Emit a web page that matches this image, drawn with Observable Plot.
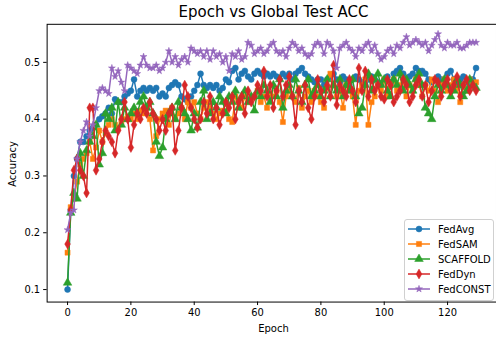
<!DOCTYPE html>
<html><head><meta charset="utf-8">
<script src="https://cdn.jsdelivr.net/npm/d3@7"></script>
<script src="https://cdn.jsdelivr.net/npm/@observablehq/plot@0.6"></script>
<style>
body{margin:0;background:#fff;overflow:hidden;}
#wrap{position:relative;width:496px;height:339px;overflow:hidden;font-family:"DejaVu Sans",sans-serif;color:#000;background:#fff;}
#title{position:absolute;left:47px;width:453px;top:3px;text-align:center;font-size:15px;line-height:18px;}
#xlabel{position:absolute;left:47px;width:453px;top:323px;text-align:center;font-size:10px;line-height:12px;}
#ylabel{position:absolute;left:13px;top:164px;font-size:10px;line-height:12px;transform:translate(-50%,-50%) rotate(-90deg);white-space:nowrap;}
#legend{position:absolute;left:404px;top:219px;width:88px;height:80px;border:1px solid #d0d0d0;border-radius:3px;background:rgba(255,255,255,0.8);}
#chart{position:absolute;left:0;top:0;}
</style></head>
<body>
<div id="wrap">
<div id="chart"></div>
<div id="title">Epoch vs Global Test ACC</div>
<div id="xlabel">Epoch</div>
<div id="ylabel">Accuracy</div>
<div id="legend"></div>
</div>
<script>
const seriesNames = ["FedAvg","FedSAM","SCAFFOLD","FedDyn","FedCONST"];
const colors = ["#1f77b4","#ff7f0e","#2ca02c","#d62728","#9467bd"];
const symbols = ["circle","square","triangle","diamond","star"];
const xTicks = [0,20,40,60,80,100,120];
const yTicks = [0.1,0.2,0.3,0.4,0.5];

const fedAvg = [0.10,0.24,0.30,0.33,0.36,0.36,0.37,0.38,0.385,0.39,0.40,0.405,0.41,0.42,0.41,0.435,0.43,0.43,0.44,0.445,
0.45,0.47,0.44,0.45,0.455,0.45,0.455,0.45,0.455,0.44,0.445,0.44,0.455,0.46,0.465,0.46,0.44,0.435,0.43,0.44,
0.45,0.46,0.48,0.46,0.455,0.46,0.455,0.46,0.45,0.455,0.47,0.465,0.485,0.49,0.47,0.48,0.485,0.475,0.47,0.48,
0.485,0.48,0.475,0.48,0.475,0.48,0.475,0.47,0.48,0.475,0.48,0.47,0.48,0.485,0.49,0.48,0.475,0.47,0.465,0.47,
0.47,0.46,0.47,0.475,0.48,0.47,0.465,0.475,0.47,0.46,0.47,0.475,0.47,0.465,0.46,0.47,0.475,0.47,0.465,0.46,
0.47,0.475,0.465,0.48,0.485,0.49,0.48,0.47,0.475,0.48,0.49,0.485,0.485,0.48,0.47,0.465,0.47,0.475,0.47,0.465,
0.48,0.485,0.47,0.465,0.47,0.475,0.465,0.46,0.47,0.49];
const fedSAM = [0.165,0.245,0.26,0.29,0.32,0.33,0.34,0.36,0.33,0.35,0.38,0.36,0.375,0.39,0.40,0.39,0.385,0.395,0.40,0.405,
0.40,0.41,0.40,0.415,0.41,0.42,0.40,0.345,0.37,0.40,0.41,0.415,0.39,0.42,0.40,0.41,0.42,0.40,0.43,0.42,
0.43,0.41,0.40,0.42,0.43,0.42,0.41,0.40,0.41,0.415,0.43,0.40,0.395,0.44,0.43,0.42,0.44,0.43,0.435,0.44,
0.45,0.43,0.44,0.42,0.445,0.44,0.45,0.43,0.395,0.44,0.45,0.44,0.43,0.455,0.42,0.44,0.45,0.43,0.45,0.44,
0.43,0.42,0.455,0.48,0.46,0.44,0.45,0.42,0.46,0.45,0.44,0.39,0.45,0.46,0.47,0.39,0.43,0.44,0.46,0.45,
0.47,0.44,0.46,0.47,0.45,0.46,0.47,0.44,0.46,0.45,0.47,0.46,0.44,0.46,0.45,0.47,0.45,0.43,0.46,0.47,
0.45,0.46,0.47,0.455,0.43,0.46,0.45,0.47,0.46,0.465];
const scaffold = [0.112,0.235,0.27,0.26,0.34,0.30,0.345,0.36,0.37,0.39,0.32,0.34,0.41,0.40,0.42,0.38,0.43,0.39,0.42,0.40,
0.41,0.42,0.41,0.43,0.44,0.42,0.43,0.41,0.36,0.335,0.35,0.40,0.41,0.42,0.40,0.43,0.42,0.41,0.40,0.38,
0.41,0.385,0.43,0.45,0.40,0.41,0.43,0.42,0.44,0.43,0.41,0.44,0.43,0.45,0.42,0.44,0.45,0.43,0.44,0.415,
0.45,0.44,0.46,0.45,0.43,0.46,0.44,0.47,0.42,0.45,0.46,0.44,0.47,0.45,0.43,0.46,0.47,0.44,0.45,0.46,
0.44,0.45,0.47,0.44,0.46,0.45,0.47,0.44,0.46,0.45,0.47,0.44,0.41,0.42,0.46,0.48,0.45,0.47,0.48,0.46,
0.47,0.45,0.44,0.47,0.46,0.48,0.45,0.47,0.46,0.45,0.47,0.48,0.46,0.42,0.41,0.40,0.44,0.46,0.45,0.47,
0.46,0.44,0.45,0.47,0.46,0.44,0.45,0.47,0.46,0.455];
const fedDyn = [0.18,0.24,0.31,0.33,0.31,0.30,0.27,0.42,0.42,0.31,0.33,0.36,0.38,0.37,0.36,0.34,0.38,0.40,0.43,0.40,
0.35,0.39,0.41,0.40,0.42,0.41,0.43,0.41,0.40,0.38,0.40,0.38,0.41,0.42,0.345,0.38,0.42,0.46,0.44,0.42,
0.40,0.385,0.40,0.43,0.41,0.44,0.40,0.42,0.39,0.41,0.43,0.42,0.44,0.40,0.43,0.44,0.41,0.45,0.43,0.44,
0.46,0.45,0.485,0.44,0.46,0.42,0.45,0.47,0.44,0.46,0.475,0.44,0.39,0.45,0.43,0.46,0.42,0.40,0.44,0.47,
0.45,0.43,0.46,0.44,0.495,0.425,0.46,0.45,0.44,0.47,0.45,0.43,0.49,0.45,0.485,0.44,0.47,0.45,0.46,0.44,
0.435,0.47,0.46,0.43,0.44,0.45,0.47,0.46,0.43,0.44,0.46,0.47,0.44,0.46,0.43,0.45,0.47,0.465,0.44,0.46,
0.47,0.45,0.46,0.475,0.44,0.46,0.47,0.45,0.46,0.45];
const fedConst = [0.205,0.235,0.24,0.33,0.36,0.38,0.395,0.37,0.39,0.42,0.45,0.455,0.45,0.445,0.49,0.475,0.485,0.465,0.45,0.495,
0.49,0.485,0.48,0.495,0.51,0.495,0.49,0.49,0.495,0.485,0.49,0.50,0.52,0.50,0.51,0.495,0.505,0.51,0.50,0.525,
0.52,0.515,0.52,0.51,0.52,0.505,0.52,0.51,0.515,0.50,0.51,0.485,0.515,0.51,0.52,0.505,0.51,0.535,0.53,0.515,
0.52,0.525,0.515,0.52,0.53,0.535,0.52,0.515,0.52,0.51,0.525,0.535,0.53,0.52,0.525,0.515,0.51,0.515,0.53,0.535,
0.53,0.515,0.535,0.53,0.52,0.49,0.525,0.53,0.535,0.525,0.52,0.51,0.525,0.52,0.53,0.535,0.52,0.53,0.515,0.505,
0.51,0.52,0.525,0.515,0.53,0.525,0.535,0.545,0.53,0.535,0.54,0.535,0.53,0.535,0.52,0.53,0.54,0.55,0.53,0.525,
0.535,0.53,0.53,0.535,0.525,0.525,0.53,0.535,0.535,0.535];

const seriesValues = [fedAvg, fedSAM, scaffold, fedDyn, fedConst];
const data = [];
seriesNames.forEach((name, i) => seriesValues[i].forEach((v, e) => data.push({series: name, epoch: e, acc: v})));

const radius = {circle: 3, square: 2.9, triangle: 3.2, diamond: 3, star: 2.2};
const marks = [];
seriesNames.forEach((name, i) => {
  const d = data.filter(r => r.series === name);
  marks.push(Plot.line(d, {x: "epoch", y: "acc", stroke: colors[i], strokeWidth: 1.5}));
  marks.push(Plot.dot(d, {x: "epoch", y: "acc", fill: colors[i], stroke: colors[i], strokeWidth: 0.5, symbol: symbols[i], r: radius[symbols[i]]}));
});

const chart = Plot.plot({
  width: 500, height: 339,
  marginTop: 24, marginBottom: 35, marginLeft: 47, marginRight: 0,
  style: {fontFamily: "DejaVu Sans", fontSize: "10px", background: "transparent", color: "#000", overflow: "visible"},
  x: {domain: [-6.45, 135.45]},
  y: {domain: [0.078, 0.567]},
  marks: [
    Plot.axisX({ticks: xTicks, tickSize: 3.5, tickPadding: 3.5, tickFormat: d => String(d), label: null, stroke: "#000", fill: "#000", fontSize: 10}),
    Plot.axisY({ticks: yTicks, tickSize: 3.5, tickPadding: 3.5, tickFormat: d => d.toFixed(1), label: null, stroke: "#000", fill: "#000", fontSize: 10}),
    ...marks,
    Plot.frame({stroke: "#000", strokeWidth: 1})
  ]
});
document.getElementById("chart").appendChild(chart);

// legend
const lg = d3.select("#legend");
const lsvg = lg.append("svg").attr("width", 88).attr("height", 80).style("position","absolute").style("left","0").style("top","0");
const symMap = {circle: d3.symbolCircle, square: d3.symbolSquare, triangle: d3.symbolTriangle, diamond: d3.symbolDiamond, star: d3.symbolStar};
seriesNames.forEach((name, i) => {
  const y = 9 + i * 15;
  const g = lsvg.append("g");
  g.append("line").attr("x1", 3).attr("x2", 25).attr("y1", y).attr("y2", y).attr("stroke", colors[i]).attr("stroke-width", 1.5);
  const rr = radius[symbols[i]];
  g.append("path").attr("d", d3.symbol(symMap[symbols[i]], Math.PI * rr * rr)()).attr("transform", `translate(14,${y})`)
    .attr("fill", colors[i]).attr("stroke", colors[i]).attr("stroke-width", 0.5);
  g.append("text").attr("x", 33).attr("y", y).attr("dy", "0.35em").attr("font-size", 10).attr("font-family", "DejaVu Sans").attr("fill", "#000").text(name);
});
</script>
</body></html>
